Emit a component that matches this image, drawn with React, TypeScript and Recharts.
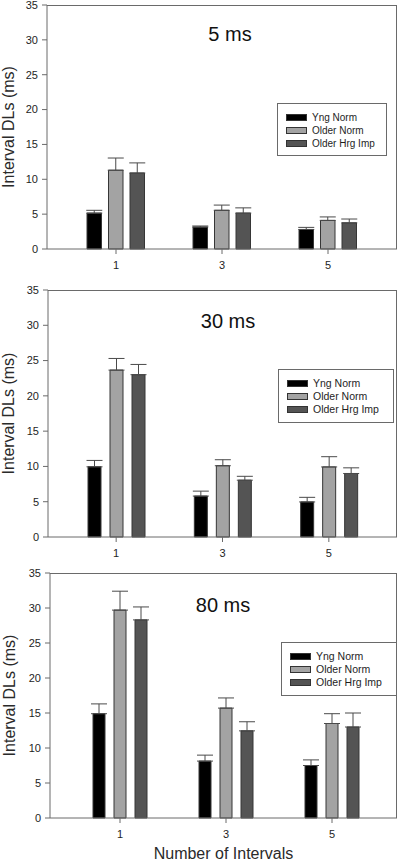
import React from 'react';
import { BarChart, Bar, XAxis, YAxis, ErrorBar, Legend } from 'recharts';

const categories = ['1', '3', '5'];
const seriesNames = ['Yng Norm', 'Older Norm', 'Older Hrg Imp'];
const seriesColors = ['#000000', '#a3a3a3', '#545454'];
const yTicks = [0, 5, 10, 15, 20, 25, 30, 35];
const panelTitles = ['5 ms', '30 ms', '80 ms'];
const xAxisTitle = 'Number of Intervals';
const yAxisTitle = 'Interval DLs (ms)';

// 5 ms
const yng5 = [5.15, 3.15, 2.8];
const yng5Err = [0.4, 0.15, 0.3];
const old5 = [11.3, 5.55, 4.1];
const old5Err = [1.75, 0.75, 0.5];
const hrg5 = [10.9, 5.15, 3.75];
const hrg5Err = [1.45, 0.75, 0.55];

// 30 ms
const yng30 = [9.95, 5.8, 4.97];
const yng30Err = [0.9, 0.7, 0.65];
const old30 = [23.65, 10.1, 9.93];
const old30Err = [1.65, 0.85, 1.45];
const hrg30 = [23.0, 8.05, 9.0];
const hrg30Err = [1.45, 0.55, 0.8];

// 80 ms
const yng80 = [14.9, 8.13, 7.5];
const yng80Err = [1.4, 0.85, 0.8];
const old80 = [29.7, 15.7, 13.5];
const old80Err = [2.7, 1.45, 1.4];
const hrg80 = [28.3, 12.45, 13.0];
const hrg80Err = [1.85, 1.3, 2.0];

const makeRows = (a: number[], ae: number[], b: number[], be: number[], c: number[], ce: number[]) =>
  categories.map((cat, i) => ({
    cat,
    yng: a[i],
    yngErr: [0, ae[i]],
    old: b[i],
    oldErr: [0, be[i]],
    hrg: c[i],
    hrgErr: [0, ce[i]],
  }));

const rows5 = makeRows(yng5, yng5Err, old5, old5Err, hrg5, hrg5Err);
const rows30 = makeRows(yng30, yng30Err, old30, old30Err, hrg30, hrg30Err);
const rows80 = makeRows(yng80, yng80Err, old80, old80Err, hrg80, hrg80Err);

const FONT = '"Liberation Sans", Arial, Helvetica, sans-serif';
const AXIS = '#6a6a6a';
const TEXT = '#1e1e1e';
const CHART_W = 400;
const Y_AXIS_W = 47;

type Cfg = {
  top: number;
  height: number;
  margin: { top: number; right: number; bottom: number; left: number };
  xHeight: number;
  pad: { left: number; right: number };
  barSize: number;
  barGap: number;
  yLabelOffset: number;
  titleX: number;
  titleY: number;
  legend: { left: number; top: number; width: number; height: number; fontSize: number };
  showXTitle: boolean;
};

const cfgs: Cfg[] = [
  {
    top: 0, height: 285, margin: { top: 5, right: 3, bottom: 6, left: 0 }, xHeight: 30,
    pad: { left: 16, right: 16 }, barSize: 14.5, barGap: 7, yLabelOffset: 8,
    titleX: 230, titleY: 41,
    legend: { left: 277, top: 103, width: 110, height: 53, fontSize: 10 }, showXTitle: false,
  },
  {
    top: 285, height: 285, margin: { top: 5, right: 3, bottom: 3, left: 1 }, xHeight: 30,
    pad: { left: 15, right: 15 }, barSize: 13, barGap: 9, yLabelOffset: 7,
    titleX: 228, titleY: 43,
    legend: { left: 278, top: 84, width: 116, height: 54, fontSize: 10.5 }, showXTitle: false,
  },
  {
    top: 566, height: 295, margin: { top: 7, right: 3, bottom: 0, left: 3 }, xHeight: 43,
    pad: { left: 17, right: 12 }, barSize: 12, barGap: 9, yLabelOffset: 6,
    titleX: 223, titleY: 46,
    legend: { left: 281, top: 76, width: 116, height: 54, fontSize: 10.5 }, showXTitle: true,
  },
];

const LegendBox = ({ payload, cfg }: { payload?: any[]; cfg: Cfg['legend'] }) => {
  const items = [...(payload || [])].sort(
    (a: any, b: any) => seriesNames.indexOf(a.value) - seriesNames.indexOf(b.value)
  );
  return (
    <div
      style={{
        width: cfg.width,
        height: cfg.height,
        boxSizing: 'border-box',
        border: `1px solid ${AXIS}`,
        background: '#fff',
        paddingTop: 7,
        fontFamily: FONT,
      }}
    >
      {items.map((entry: any) => (
        <div key={entry.value} style={{ display: 'flex', alignItems: 'center', height: 13 }}>
          <div
            style={{
              marginLeft: 8,
              width: 21,
              height: 7,
              boxSizing: 'border-box',
              background: entry.color,
              border: '1px solid #333',
            }}
          />
          <span style={{ marginLeft: 5, fontSize: cfg.fontSize, color: TEXT, lineHeight: '13px' }}>
            {entry.value}
          </span>
        </div>
      ))}
    </div>
  );
};

const Panel = ({ rows, title, cfg }: { rows: any[]; title: string; cfg: Cfg }) => {
  const keys = ['yng', 'old', 'hrg'];
  const plotLeft = cfg.margin.left + Y_AXIS_W;
  const plotTop = cfg.margin.top;
  const plotRight = CHART_W - cfg.margin.right;
  const plotBottom = cfg.height - cfg.margin.bottom - cfg.xHeight;
  return (
    <div style={{ position: 'absolute', left: 0, top: cfg.top, width: CHART_W, height: cfg.height }}>
      <BarChart
        width={CHART_W}
        height={cfg.height}
        data={rows}
        margin={cfg.margin}
        barSize={cfg.barSize}
        barGap={cfg.barGap}
        style={{ fontFamily: FONT }}
      >
        <XAxis
          dataKey="cat"
          height={cfg.xHeight}
          padding={cfg.pad}
          axisLine={{ stroke: AXIS }}
          tickLine={{ stroke: AXIS }}
          tickSize={5}
          tickMargin={7}
          tick={{ fill: TEXT, fontSize: 11 }}
          label={
            cfg.showXTitle
              ? { value: xAxisTitle, position: 'insideBottom', offset: 2, fill: '#2a2a2a', fontSize: 16 }
              : undefined
          }
        />
        <YAxis
          domain={[0, 35]}
          ticks={yTicks}
          width={Y_AXIS_W}
          axisLine={{ stroke: AXIS }}
          tickLine={{ stroke: AXIS }}
          tickSize={5}
          tickMargin={4}
          tick={{ fill: TEXT, fontSize: 11 }}
          interval={0}
          label={{
            value: yAxisTitle,
            angle: -90,
            position: 'insideLeft',
            offset: cfg.yLabelOffset,
            fill: '#2a2a2a',
            fontSize: 16,
            style: { textAnchor: 'middle' },
          }}
        />
        {keys.map((k, i) => (
          <Bar
            key={k}
            dataKey={k}
            name={seriesNames[i]}
            fill={seriesColors[i]}
            stroke="#363636"
            strokeWidth={1}
            isAnimationActive={false}
          >
            <ErrorBar dataKey={`${k}Err`} width={8} stroke="#4a4a4a" strokeWidth={1} direction="y" />
          </Bar>
        ))}
        <Legend
          layout="vertical"
          align="center"
          verticalAlign="middle"
          wrapperStyle={{
            left: cfg.legend.left,
            top: cfg.legend.top,
            width: cfg.legend.width,
            height: cfg.legend.height,
          }}
          content={(props: any) => <LegendBox payload={props.payload} cfg={cfg.legend} />}
        />
        <text x={cfg.titleX} y={cfg.titleY} textAnchor="middle" fontSize={20} fill="#111" fontFamily={FONT}>
          {title}
        </text>
      </BarChart>
      <div
        style={{
          position: 'absolute',
          left: plotLeft,
          top: plotTop,
          width: plotRight - plotLeft,
          height: plotBottom - plotTop,
          boxSizing: 'border-box',
          borderTop: `1px solid ${AXIS}`,
          borderRight: `1px solid ${AXIS}`,
          pointerEvents: 'none',
        }}
      />
    </div>
  );
};

export default function App() {
  const allRows = [rows5, rows30, rows80];
  return (
    <div
      style={{
        position: 'absolute',
        left: 0,
        top: 0,
        width: 400,
        height: 861,
        overflow: 'hidden',
        background: '#fff',
        fontFamily: FONT,
      }}
    >
      {cfgs.map((cfg, i) => (
        <Panel key={i} rows={allRows[i]} title={panelTitles[i]} cfg={cfg} />
      ))}
    </div>
  );
}
